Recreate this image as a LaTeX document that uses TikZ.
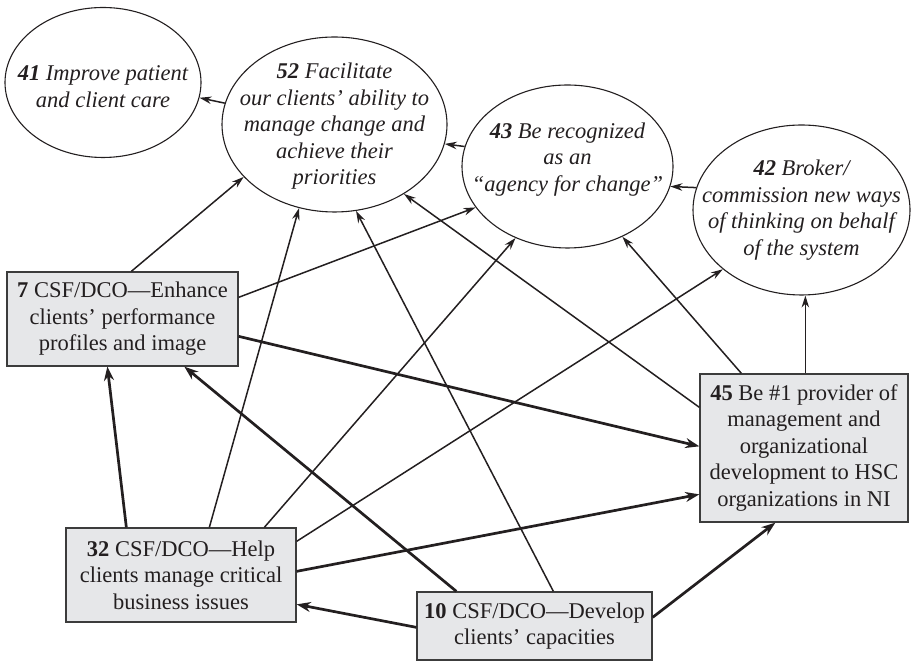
\documentclass[tikz,border=0pt]{standalone}
\usepackage{fontspec}
\setmainfont{Liberation Serif}
\usetikzlibrary{arrows.meta,shapes.geometric}
\definecolor{boxfill}{HTML}{E6E7E9}
\definecolor{boxline}{HTML}{3C3C3C}
\definecolor{ink}{HTML}{231F20}
\begin{document}
\begin{tikzpicture}[x=1pt,y=1pt,
  goal/.style={draw=ink, line width=1.1pt, ellipse, inner sep=0pt},
  goaltext/.style={align=center, text=ink, inner sep=0pt,
    font=\fontsize{22.5}{26.5}\selectfont\itshape},
  csf/.style={draw=boxline, fill=boxfill, line width=1.3pt, rectangle,
    inner sep=0pt, align=center, text=ink,
    font=\fontsize{22.5}{26.5}\selectfont},
  link/.style={draw=ink, line width=1.5pt, -{Stealth[length=12pt,width=7.5pt]}},
  strong/.style={draw=ink, line width=2.7pt, -{Stealth[length=14pt,width=10pt]}}]

\useasboundingbox (0,0) rectangle (912,663);

% goals (ellipses)
\node[goal, minimum width=196pt, minimum height=150pt] (e41) at (103,580.5) {};
\node[goal, minimum width=225pt, minimum height=175pt] (e52) at (334.5,538.5) {};
\node[goal, minimum width=211pt, minimum height=163pt] (e43) at (567.5,496.5) {};
\node[goal, minimum width=217pt, minimum height=170pt] (e42) at (801.5,453) {};

\node[goaltext] (t41) at ([yshift=-4pt]e41.center) {\textbf{41} Improve patient\\and client care};
\node[goaltext] (t52) at ([yshift=-2pt]e52.center) {\textbf{52} Facilitate\\our clients’ ability to\\manage change and\\achieve their\\priorities};
\node[goaltext] (t43) at ([yshift=7pt]e43.center) {\textbf{43} Be recognized\\as an\\“agency for change”};
\node[goaltext] (t42) at (e42.center) {\textbf{42} Broker/\\commission new ways\\of thinking on behalf\\of the system};

% critical success factors (boxes)
\node[csf, minimum width=231pt, minimum height=94pt] (b7) at (122.5,344)
  {\textbf{7} CSF/DCO—Enhance\\clients’ performance\\profiles and image};
\node[csf, minimum width=208pt, minimum height=148pt] (b45) at (804,215)
  {\textbf{45} Be \#1 provider of\\management and\\organizational\\development to HSC\\organizations in NI};
\node[csf, minimum width=230pt, minimum height=94pt] (b32) at (181,88)
  {\textbf{32} CSF/DCO—Help\\clients manage critical\\business issues};
\node[csf, minimum width=235pt, minimum height=68pt] (b10) at (534.5,37)
  {\textbf{10} CSF/DCO—Develop\\clients’ capacities};

% links between goals
\draw[link] (e52.169.5) -- (e41.-9);
\draw[link] (e43.169) -- (e52.-10.5);
\draw[link] (e42.168.6) -- (e43.-11);

% links from boxes to goals
\draw[link] ([xshift=125pt]b7.north west) -- (e52.210.5);
\draw[link] ([yshift=-26pt]b7.north east) -- (e43.204.7);
\draw[link] ([xshift=144pt]b32.north west) -- (e52.247.4);
\draw[link] ([xshift=137pt]b10.north west) -- (e52.284.9);
\draw[link] ([yshift=-34pt]b45.north west) -- (e52.-45.8);
\draw[link] ([xshift=199pt]b32.north west) -- (e43.234.2);
\draw[link] ([xshift=42pt]b45.north west) -- (e43.-52.2);
\draw[link] ([yshift=-14pt]b32.north east) -- (e42.217);
\draw[link] ([xshift=106pt]b45.north west) -- ([xshift=106pt]b45.north west |- e42.south);

% links between boxes
\draw[strong] ([yshift=-65pt]b7.north east) -- ([yshift=-73pt]b45.north west);
\draw[strong] ([xshift=61pt]b32.north west) -- ([xshift=101pt]b7.south west);
\draw[strong] ([xshift=40pt]b10.north west) -- ([xshift=178pt]b7.south west);
\draw[strong] ([yshift=-44pt]b32.north east) -- ([yshift=-121pt]b45.north west);
\draw[strong] ([yshift=-36pt]b10.north west) -- ([yshift=-77pt]b32.north east);
\draw[strong] ([yshift=-26pt]b10.north east) -- ([xshift=76pt]b45.south west);
\end{tikzpicture}
\end{document}
